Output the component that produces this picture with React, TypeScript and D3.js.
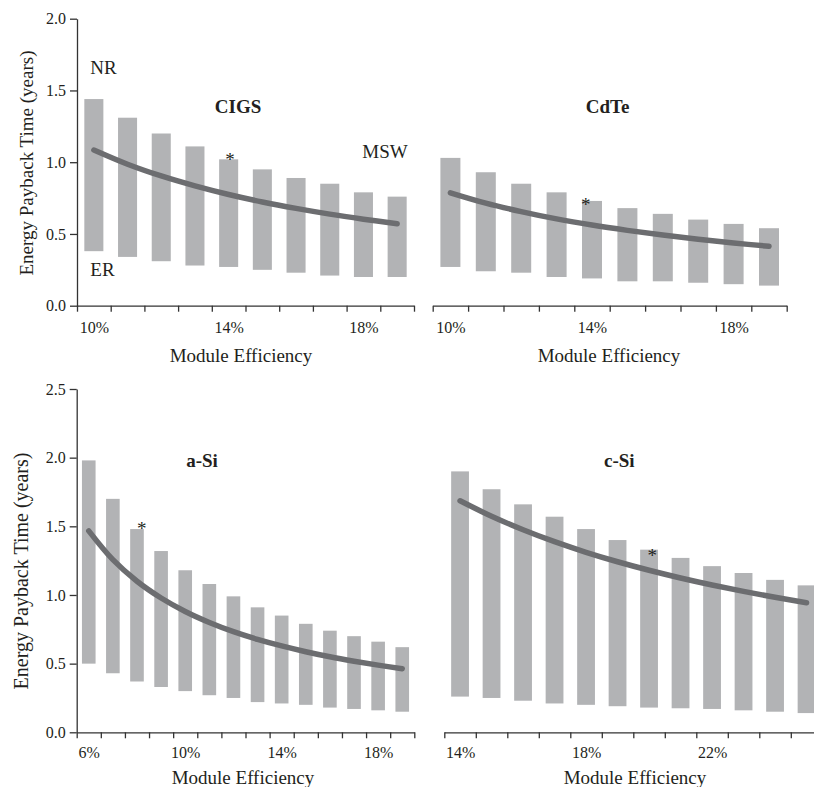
import { useEffect, useRef } from "react";
import * as d3 from "d3";

// CIGS: module efficiency (%) and energy payback time (years)
const cigsEff = [10, 11, 12, 13, 14, 15, 16, 17, 18, 19];
const cigsHigh = [1.44, 1.31, 1.2, 1.11, 1.02, 0.95, 0.89, 0.85, 0.79, 0.76];
const cigsLow = [0.38, 0.34, 0.31, 0.28, 0.27, 0.25, 0.23, 0.21, 0.2, 0.2];
const cigsMid = [1.085, 0.986, 0.904, 0.835, 0.775, 0.723, 0.678, 0.638, 0.603, 0.571];

// CdTe
const cdteEff = [10, 11, 12, 13, 14, 15, 16, 17, 18, 19];
const cdteHigh = [1.03, 0.93, 0.85, 0.79, 0.73, 0.68, 0.64, 0.6, 0.57, 0.54];
const cdteLow = [0.27, 0.24, 0.23, 0.2, 0.19, 0.17, 0.17, 0.16, 0.15, 0.14];
const cdteMid = [0.787, 0.715, 0.656, 0.605, 0.562, 0.525, 0.492, 0.463, 0.437, 0.414];

// a-Si
const asiEff = [6, 7, 8, 9, 10, 11, 12, 13, 14, 15, 16, 17, 18, 19];
const asiHigh = [1.98, 1.7, 1.48, 1.32, 1.18, 1.08, 0.99, 0.91, 0.85, 0.79, 0.74, 0.7, 0.66, 0.62];
const asiLow = [0.5, 0.43, 0.37, 0.33, 0.3, 0.27, 0.25, 0.22, 0.21, 0.2, 0.18, 0.17, 0.16, 0.15];
const asiMid = [1.467, 1.257, 1.1, 0.978, 0.88, 0.8, 0.733, 0.677, 0.629, 0.587, 0.55, 0.518, 0.489, 0.463];

// c-Si
const csiEff = [14, 15, 16, 17, 18, 19, 20, 21, 22, 23, 24, 25];
const csiHigh = [1.9, 1.77, 1.66, 1.57, 1.48, 1.4, 1.33, 1.27, 1.21, 1.16, 1.11, 1.07];
const csiLow = [0.26, 0.25, 0.23, 0.21, 0.2, 0.19, 0.18, 0.175, 0.17, 0.16, 0.15, 0.14];
const csiMid = [1.686, 1.573, 1.475, 1.388, 1.311, 1.242, 1.18, 1.124, 1.073, 1.026, 0.983, 0.944];

// asterisk markers (efficiency, years)
const starCigs = [14.04, 1.036];
const starCdte = [13.82, 0.725];
const starAsi = [8.2, 1.505];
const starCsi = [20.1, 1.304];

const topYTicks = [0, 0.5, 1, 1.5, 2];
const bottomYTicks = [0, 0.5, 1, 1.5, 2, 2.5];
const cigsLabels = [10, 14, 18];
const cdteLabels = [10, 14, 18];
const asiLabels = [6, 10, 14, 18];
const csiLabels = [14, 18, 22];

const W = 814;
const H = 787;
const FONT = "'Liberation Serif', 'Times New Roman', serif";
const BAR = "#b2b3b5";
const LINE = "#6c6d70";
const INK = "#231f20";

export default function App() {
  const svgRef = useRef<SVGSVGElement>(null);

  useEffect(() => {
    const svg = d3.select(svgRef.current);
    svg.selectAll("*").remove();

    svg
      .append("defs")
      .append("filter")
      .attr("id", "soft")
      .attr("x", "-20%")
      .attr("y", "-5%")
      .attr("width", "140%")
      .attr("height", "110%")
      .append("feGaussianBlur")
      .attr("stdDeviation", 0.6);

    const yTop = d3.scaleLinear().domain([0, 2]).range([305.7, 18.7]);
    const yBot = d3.scaleLinear().domain([0, 2.5]).range([732.3, 389]);

    const panels = [
      {
        eff: cigsEff, high: cigsHigh, low: cigsLow, mid: cigsMid, star: starCigs,
        labels: cigsLabels, y: yTop, x0: 77, x1: 414, yTicks: topYTicks,
        name: "CIGS", nameX: 238, nameY: 113, pad: 16,
        axisLabelX: 241, axisLabelY: 361.7, yLabelX: 33, yLabelY: 163, yLabelSize: 19,
        notes: [
          { t: "NR", x: 103.5, y: 74 },
          { t: "ER", x: 102.5, y: 276 },
          { t: "MSW", x: 385, y: 158.3 },
        ],
      },
      {
        eff: cdteEff, high: cdteHigh, low: cdteLow, mid: cdteMid, star: starCdte,
        labels: cdteLabels, y: yTop, x0: 432.7, x1: 786.7, yTicks: null,
        name: "CdTe", nameX: 607.5, nameY: 113, pad: 16,
        axisLabelX: 609, axisLabelY: 361.7, notes: [],
      },
      {
        eff: asiEff, high: asiHigh, low: asiLow, mid: asiMid, star: starAsi,
        labels: asiLabels, y: yBot, x0: 76.7, x1: 414.3, yTicks: bottomYTicks,
        name: "a-Si", nameX: 202, nameY: 467.3, pad: 14.6,
        axisLabelX: 243, axisLabelY: 784, yLabelX: 28, yLabelY: 571, yLabelSize: 20,
        notes: [],
      },
      {
        eff: csiEff, high: csiHigh, low: csiLow, mid: csiMid, star: starCsi,
        labels: csiLabels, y: yBot, x0: 444.3, x1: 822.3, yTicks: null,
        name: "c-Si", nameX: 619.3, nameY: 467.3, pad: 14.6,
        axisLabelX: 635, axisLabelY: 784, notes: [],
      },
    ];

    panels.forEach((p: any) => {
      const g = svg.append("g");
      const n = p.eff.length;
      const x = d3
        .scaleLinear()
        .domain([p.eff[0] - 0.5, p.eff[n - 1] + 0.5])
        .range([p.x0, p.x1]);
      const y = p.y;
      const bw = (x(p.eff[0] + 1) - x(p.eff[0])) * 0.565;
      const base = y(0);

      // range bars
      g.append("g")
        .attr("filter", "url(#soft)")
        .selectAll("rect")
        .data(p.eff.map((e: number, i: number) => [e, p.low[i], p.high[i]]))
        .enter()
        .append("rect")
        .attr("x", (d: number[]) => x(d[0]) - bw / 2)
        .attr("y", (d: number[]) => y(d[2]))
        .attr("width", bw)
        .attr("height", (d: number[]) => y(d[1]) - y(d[2]))
        .attr("fill", BAR);

      // central curve
      const line = d3
        .line<number[]>()
        .x((d) => x(d[0]))
        .y((d) => y(d[1]))
        .curve(d3.curveCatmullRom);
      g.append("path")
        .attr("d", line(p.eff.map((e: number, i: number) => [e, p.mid[i]])))
        .attr("fill", "none")
        .attr("stroke", LINE)
        .attr("stroke-width", 5.5)
        .attr("stroke-linecap", "round");

      // asterisk
      g.append("text")
        .attr("x", x(p.star[0]))
        .attr("y", y(p.star[1]) + 9)
        .attr("text-anchor", "middle")
        .attr("font-family", FONT)
        .attr("font-size", 19)
        .attr("fill", INK)
        .text("*");

      // x axis: ticks at category boundaries
      const ticks = d3.range(n + 1).map((k) => p.eff[0] - 0.5 + k);
      const xAxis = g
        .append("g")
        .attr("transform", `translate(0,${base})`)
        .call(
          d3
            .axisBottom(x)
            .tickValues(ticks)
            .tickFormat(() => "")
            .tickSize(6)
            .tickSizeOuter(0)
        );
      xAxis.attr("color", "#333").selectAll("path,line").attr("stroke-width", 1.3);

      // x labels at category centres
      const xLab = g
        .append("g")
        .attr("transform", `translate(0,${base})`)
        .call(
          d3
            .axisBottom(x)
            .tickValues(p.labels)
            .tickSize(0)
            .tickPadding(p.pad)
            .tickFormat((d: any) => d + "%")
        );
      xLab.select(".domain").remove();
      xLab.attr("font-family", FONT).attr("font-size", 16).attr("color", INK);

      // y axis
      if (p.yTicks) {
        const yAxis = g
          .append("g")
          .attr("transform", `translate(${p.x0},0)`)
          .call(
            d3
              .axisLeft(y)
              .tickValues(p.yTicks)
              .tickFormat(d3.format(".1f"))
              .tickSize(7)
              .tickPadding(4)
              .tickSizeOuter(0)
          );
        yAxis.attr("font-family", FONT).attr("font-size", 16).attr("color", "#333");
        yAxis.selectAll("path,line").attr("stroke-width", 1.3);
        yAxis.selectAll("text").attr("fill", INK);

        g.append("text")
          .attr("transform", `translate(${p.yLabelX},${p.yLabelY}) rotate(-90)`)
          .attr("text-anchor", "middle")
          .attr("font-family", FONT)
          .attr("font-size", p.yLabelSize)
          .attr("fill", INK)
          .text("Energy Payback Time (years)");
      }

      g.append("text")
        .attr("x", p.axisLabelX)
        .attr("y", p.axisLabelY)
        .attr("text-anchor", "middle")
        .attr("font-family", FONT)
        .attr("font-size", 19)
        .attr("fill", INK)
        .text("Module Efficiency");

      g.append("text")
        .attr("x", p.nameX)
        .attr("y", p.nameY)
        .attr("text-anchor", "middle")
        .attr("font-family", FONT)
        .attr("font-size", 19)
        .attr("font-weight", "bold")
        .attr("fill", INK)
        .text(p.name);

      p.notes.forEach((nt: any) => {
        g.append("text")
          .attr("x", nt.x)
          .attr("y", nt.y)
          .attr("text-anchor", "middle")
          .attr("font-family", FONT)
          .attr("font-size", 19)
          .attr("fill", INK)
          .text(nt.t);
      });
    });
  }, []);

  return (
    <svg
      ref={svgRef}
      width={W}
      height={H}
      style={{ position: "absolute", left: 0, top: 0, background: "#fff", overflow: "hidden" }}
    />
  );
}
